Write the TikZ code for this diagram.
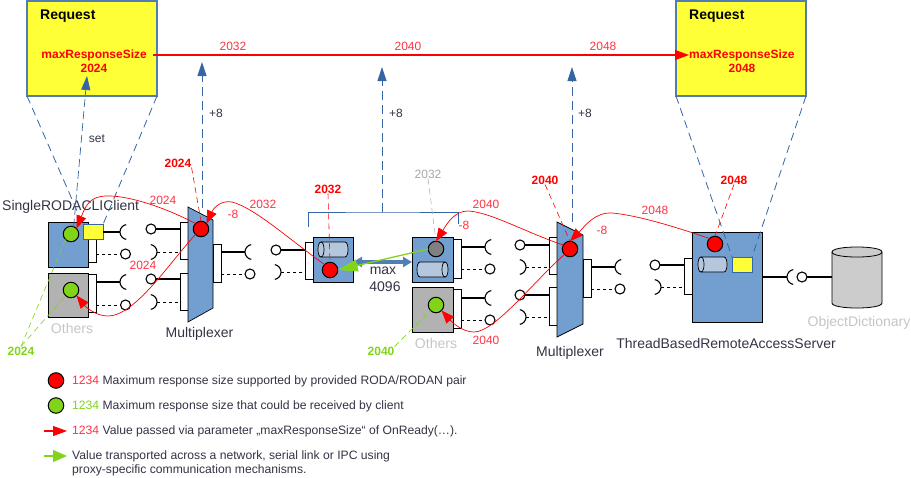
\documentclass[tikz,border=0pt]{standalone}
\usepackage{fontspec}
\setmainfont{Liberation Sans}
\usepackage{xcolor}
\usetikzlibrary{positioning,arrows.meta,calc}

\definecolor{boxblue}{HTML}{729FCF}
\definecolor{linkblue}{HTML}{3465A4}
\definecolor{reqyellow}{HTML}{FFFF38}
\definecolor{boxgray}{HTML}{B2B2B2}
\definecolor{dbgray}{HTML}{CCCCCC}
\definecolor{cylblue}{HTML}{B4C7DC}
\definecolor{limegreen}{HTML}{81D41A}
\definecolor{darktext}{HTML}{333344}
\definecolor{softred}{HTML}{FF3344}

\tikzset{
    txt/.style={font=\fontsize{12}{14}\selectfont, inner sep=0pt, text=darktext},
    legtxt/.style={font=\fontsize{12.15}{13.5}\selectfont, inner sep=0pt, text=darktext, anchor=west},
    big/.style={font=\fontsize{14}{16}\selectfont, inner sep=0pt, text=darktext},
    redval/.style={font=\fontsize{12}{14}\selectfont, inner sep=0pt, text=softred},
    redbold/.style={font=\bfseries\fontsize{12}{14}\selectfont, inner sep=0pt, text=red},
    limebold/.style={font=\bfseries\fontsize{12}{14}\selectfont, inner sep=0pt, text=limegreen},
    request/.style={draw=linkblue!85!white, line width=2pt, fill=reqyellow, minimum width=130, minimum height=95, outer sep=0pt},
    compbox/.style={draw=black, line width=1pt, fill=boxblue, outer sep=0pt, inner sep=0pt},
    graybox/.style={compbox, fill=boxgray},
    port/.style={draw=black, line width=1pt, fill=white, minimum width=8, outer sep=0pt, inner sep=0pt},
    mux/.style={draw=black, line width=0.7pt, fill=boxblue},
    dot/.style={circle, draw=black, line width=1pt, minimum size=15.5, inner sep=0pt, outer sep=0pt},
    pin/.style={circle, draw=black, line width=1.1pt, fill=white, minimum size=10, inner sep=0pt, outer sep=0pt},
    slot/.style={draw=linkblue, line width=0.9pt, fill=reqyellow, minimum width=20, minimum height=15, inner sep=0pt, outer sep=0pt},
    tubeline/.style={draw=black, line width=0.7pt, fill=cylblue},
    wire/.style={draw=black, line width=1.1pt},
    wiredash/.style={draw=black, line width=1pt, dash pattern=on 3pt off 3pt},
    plus/.style={draw=linkblue, line width=0.9pt, dash pattern=on 9pt off 5pt, -{Triangle[length=14pt,width=9pt]}},
    zoomline/.style={draw=linkblue, line width=0.8pt, dash pattern=on 8pt off 5pt},
    pass/.style={draw=red, line width=0.7pt, -{Triangle[length=13pt,width=10pt]}},
    tag/.style={line width=0.6pt, dash pattern=on 6pt off 4pt},
    net/.style={draw=limegreen, line width=1.3pt, -{Triangle[length=20pt,width=12pt]}},
    valueline/.style={draw=red, fill=red, line width=1.1pt, -{Triangle[length=14pt,width=10pt]}}
}
% open sockets, given by the outer point of the arc
\newcommand{\sockl}[2]{\coordinate (#1) at (#2); \draw[wire] (#1) arc (180:100:7.5) (#1) arc (180:260:7.5);}
\newcommand{\sockr}[2]{\coordinate (#1) at (#2); \draw[wire] (#1) arc (0:80:7.5) (#1) arc (0:-80:7.5);}
% lying tubes: x, y of the straight part, its length, its height
\newcommand{\tubebody}[4]{\draw[tubeline] (#1,#2) -- ++(#3,0) .. controls +(4,0) and +(4,0) .. ++(0,#4) -- ++(-#3,0) .. controls +(-4,0) and +(-4,0) .. ++(0,-#4) -- cycle;}
\newcommand{\tubel}[4]{\tubebody{#1}{#2}{#3}{#4} \draw[tubeline, fill=none] (#1,#2) .. controls +(4,0) and +(4,0) .. ++(0,#4);}
\newcommand{\tuber}[4]{\tubebody{#1}{#2}{#3}{#4} \draw[tubeline, fill=none] (#1,#2) ++(#3,0) .. controls +(-4,0) and +(-4,0) .. ++(0,#4);}

\begin{document}
\begin{tikzpicture}[x=1pt, y=-1pt, >=Latex]
\useasboundingbox (0,0) rectangle (911,477);

% Requests
\node[request] (reqL) at (92,48.5) {};
\node[request] (reqR) at (741,48.5) {};
\node[big, font=\bfseries\fontsize{14}{16}\selectfont, text=black, anchor=west] (reqLt) at (40,16) {Request};
\node[big, font=\bfseries\fontsize{14}{16}\selectfont, text=black, anchor=west] (reqRt) at (689,16) {Request};
\node[redbold, anchor=east] (maxL) at (147,55) {maxResponseSize};
\node[redbold] (valL) at (94,68) {2024};
\node[redbold, anchor=west] (maxR) at (689,55) {maxResponseSize};
\node[redbold] (valR) at (742,68) {2048};
\node[redval] (up1) at (233,46) {2032};
\node[redval] (up2) at (408,46) {2040};
\node[redval] (up3) at (603,46) {2048};

% Left client with its plugs
\node[port, minimum height=29] (clientP) at (92,247.5) {};
\node[port, minimum height=38] (othersP) at (92,293) {};
\node[compbox, minimum width=40, minimum height=45] (client) at (68,244.5) {};
\node[graybox, minimum width=40, minimum height=44] (others) at (68,295) {};
\node[slot] (slotL) at (93,232) {};
\node[big, anchor=west] (clientT) at (2,207) {SingleRODACLIClient};
\node[big, text=boxgray!75!white] (othersT) at (72,328) {Others};

\sockl{s1}{120,232}
\node[pin] (p1) at (151,229) {};
\node[pin] (p2) at (125.5,254) {};
\sockr{s2}{157,252}
\sockl{s3}{120,282}
\node[pin] (p3) at (151,279) {};
\node[pin] (p4) at (125.5,305) {};
\sockr{s4}{157,302}

% First multiplexer
\node[port, minimum height=37] (m1a) at (184.5,240.5) {};
\node[port, minimum height=37] (m1b) at (184.5,291.5) {};
\node[port, minimum height=38] (m1c) at (217,263) {};
\draw[mux] (188,207) -- (213,220) -- (213,308) -- (188,322) -- cycle;
\node[big] (m1t) at (199.5,334) {Multiplexer};

\draw[wire] (slotL.east) -- (s1);
\draw[wire] (p1.east) -- (p1 -| m1a.west);
\draw[wiredash] (p2 -| clientP.east) -- (p2.west);
\draw[wiredash] (s2) -- (s2 -| m1a.west);
\draw[wire] (s3 -| othersP.east) -- (s3);
\draw[wire] (p3.east) -- (p3 -| m1b.west);
\draw[wiredash] (p4 -| othersP.east) -- (p4.west);
\draw[wiredash] (s4) -- (s4 -| m1b.west);

\sockl{s5}{245,252}
\node[pin] (p5) at (276,250) {};
\node[pin] (p6) at (250,274) {};
\sockr{s6}{281,272}
\draw[wire] (s5 -| m1c.east) -- (s5);
\draw[wiredash] (p6 -| m1c.east) -- (p6.west);

% Middle pair
\node[port, minimum height=37] (midP) at (309,260.5) {};
\node[compbox, minimum width=40, minimum height=45] (midA) at (333,259.5) {};
\node[port, minimum height=39] (midQ) at (457,258.5) {};
\node[port, minimum height=39] (midR) at (457,308.5) {};
\node[compbox, minimum width=41, minimum height=45] (midB) at (432.5,259.5) {};
\node[graybox, minimum width=41, minimum height=45] (midC) at (432.5,309.5) {};
\tubel{321}{242}{24}{15}
\tuber{420}{262}{25}{15}
\node[big, text=boxgray!75!white] (othersU) at (436,343) {Others};
\node[big] (maxA) at (383,271) {max};
\node[big] (maxB) at (385,287) {4096};
\draw[wire] (p5.east) -- (p5 -| midP.west);
\draw[wiredash] (s6) -- (s6 -| midP.west);

\sockl{s7}{485,247}
\node[pin] (p7) at (490,269) {};
\sockl{s8}{485,298}
\node[pin] (p8) at (490,320) {};
\node[pin] (p9) at (520,245) {};
\sockr{s9}{526,267}
\node[pin] (p10) at (520,295) {};
\sockr{s10}{526,317}

% Second multiplexer
\node[port, minimum height=37] (m2a) at (553.5,255.5) {};
\node[port, minimum height=38] (m2b) at (553.5,306) {};
\node[port, minimum height=38] (m2c) at (587,278) {};
\draw[mux] (557,222) -- (583,235) -- (583,324) -- (557,337) -- cycle;
\node[big] (m2t) at (570,353) {Multiplexer};

\draw[wire] (s7 -| midQ.east) -- (s7);
\draw[wiredash] (p7 -| midQ.east) -- (p7.west);
\draw[wire] (s8 -| midR.east) -- (s8);
\draw[wiredash] (p8 -| midR.east) -- (p8.west);
\draw[wire] (p9.east) -- (p9 -| m2a.west);
\draw[wiredash] (s9) -- (s9 -| m2a.west);
\draw[wire] (p10.east) -- (p10 -| m2b.west);
\draw[wiredash] (s10) -- (s10 -| m2b.west);

\sockl{s11}{615,267}
\node[pin] (p11) at (620,289) {};
\draw[wire] (s11 -| m2c.east) -- (s11);
\draw[wiredash] (p11 -| m2c.east) -- (p11.west);

% Server and dictionary
\node[pin] (p12) at (655,265) {};
\sockr{s12}{661,287}
\node[port, minimum height=36] (srvP) at (688,276) {};
\node[compbox, minimum width=70, minimum height=90] (srv) at (727,277) {};
\tubel{701}{257}{23}{15}
\node[slot] (slotR) at (742,264.5) {};
\node[big] (srvT) at (726,343) {ThreadBasedRemoteAccessServer};
\draw[wire] (p12.east) -- (p12 -| srvP.west);
\draw[wiredash] (s12) -- (s12 -| srvP.west);
\sockl{s13}{787,277}
\node[pin] (p13) at (802,277) {};
\coordinate (db) at (832,277);
\draw[draw=black, line width=0.8pt, fill=dbgray] (832,252) .. controls +(0,-6.7) and +(0,-6.7) .. ++(50,0) -- ++(0,51) .. controls +(0,6.7) and +(0,6.7) .. ++(-50,0) -- cycle;
\draw[draw=black, line width=0.8pt] (832,252) .. controls +(0,6.7) and +(0,6.7) .. ++(50,0);
\node[big, text=boxgray!75!white] (dbT) at (859,323) {ObjectDictionary};
\draw[wire] (srv.east |- s13) -- (s13);
\draw[wire] (p13.east) -- (db);

% Bracket over the middle pair
\coordinate (brA) at (308,227);
\coordinate (brB) at (458,224);
\coordinate (brC) at (382,212);
\draw[draw=linkblue, line width=0.9pt] (brA) |- (brC) -| (brB);

% Zoom lines and +8 arrows
\draw[zoomline] (reqL.south west) -- (slotL.north west);
\draw[zoomline] (reqL.south east) -- (slotL.north east);
\draw[zoomline] (reqR.south west) -- (slotR.north west);
\draw[zoomline] (reqR.south east) -- (slotR.north east);
\coordinate (tipA) at (202,62);
\coordinate (tipB) at (382,67);
\coordinate (tipC) at (572,67);
\coordinate (tipS) at (87,76);
\coordinate (baseA) at (202,208);
\coordinate (baseC) at (572,222);
\draw[plus] (baseA) -- (tipA);
\draw[plus] (brC) -- (tipB);
\draw[plus] (baseC) -- (tipC);
\node[txt] (plusA) at (216,113) {+8};
\node[txt] (plusB) at (396,113) {+8};
\node[txt] (plusC) at (585,113) {+8};
\node[txt] (setT) at (97,139) {set};
\draw[valueline] (maxL.east) ++(6,0) -- (maxR.west);

% Value dots
\node[dot, fill=limegreen] (dotC) at (71,234) {};
\node[dot, fill=limegreen] (dotO) at (71,290) {};
\node[dot, fill=red] (dotM1) at (201,229) {};
\node[dot, fill=red] (dotA) at (330,270) {};
\node[dot, fill=gray] (dotB) at (436,249) {};
\node[dot, fill=limegreen] (dotG) at (436,305) {};
\node[dot, fill=red] (dotM2) at (570,249) {};
\node[dot, fill=red] (dotS) at (715,244) {};
\draw[plus, dash pattern=on 8pt off 4pt, line width=0.7pt] (dotC.70) -- (tipS);

% Value tags
\node[redbold] (tag1) at (178,163) {2024};
\node[redbold] (tag2) at (328,189) {2032};
\node[txt, text=gray!70!white] (tag3) at (428,174) {2032};
\node[redbold] (tag4) at (545,180) {2040};
\node[redbold] (tag5) at (734,180) {2048};
\node[limebold] (tag6) at (21,351) {2024};
\node[limebold] (tag7) at (381,351) {2040};
\draw[tag, red] (tag1.south east) -- (dotM1.north);
\draw[tag, red] (tag2.south) -- (dotA.north);
\draw[tag, gray!60!white] (tag3.south) -- (dotB.north);
\draw[tag, red] (tag4.south) -- (dotM2.north);
\draw[tag, red] (tag5.south) -- (dotS.north);
\draw[tag, limegreen] (tag6.north) -- (dotC.south west);
\draw[tag, limegreen] (tag6.north) -- (dotO.south west);
\draw[tag, limegreen] (tag7.north east) -- (dotG.south west);

% Link between the pair
\coordinate (linkA) at (353,262);
\coordinate (linkB) at (412,262);
\draw[{Triangle[length=9pt,width=10pt]}-{Triangle[length=9pt,width=10pt]}, draw=linkblue!55!boxblue, fill=linkblue!55!boxblue, line width=3.5pt] (linkA) -- (linkB);
\draw[net] (dotB.west) -- (dotA.east);

% Passed values
\draw[pass] (dotM1.135) .. controls (160,205) and (125,195) .. (105,196) .. controls (90,197) and (86,205) .. (dotC.north east);
\draw[pass] (dotM1.225) .. controls (170,262) and (135,316) .. (108,316) .. controls (95,316) and (85,306) .. (dotO.south east);
\draw[pass] (dotA.135) .. controls (290,240) and (255,208) .. (232,202) .. controls (222,200) and (214,207) .. (dotM1.north east);
\draw[pass] (dotM2.150) .. controls (525,232) and (490,212) .. (468,211) .. controls (455,211) and (448,222) .. (dotB.north);
\draw[pass] (dotM2.225) .. controls (535,280) and (495,332) .. (474,332) .. controls (462,332) and (452,322) .. (dotG.south east);
\draw[pass] (dotS.135) .. controls (670,225) and (635,215) .. (612,213) .. controls (595,212) and (585,226) .. (dotM2.north);
\node[redval] (v1) at (163,200) {2024};
\node[redval] (v2) at (143,265) {2024};
\node[redval] (v3) at (263,204) {2032};
\node[redval] (v4) at (233,214) {-8};
\node[redval] (v5) at (486,204) {2040};
\node[redval] (v6) at (464,225) {-8};
\node[redval] (v7) at (486,340) {2040};
\node[redval] (v8) at (655,210) {2048};
\node[redval] (v9) at (602,230) {-8};

% Legend
\node[dot, fill=red] (legA) at (56,380.5) {};
\node[dot, fill=limegreen] (legB) at (56,405.5) {};
\coordinate (legC0) at (44,431);
\coordinate (legC1) at (67,431);
\coordinate (legD0) at (44,456);
\coordinate (legD1) at (67,456);
\draw[valueline] (legC0) -- (legC1);
\draw[draw=limegreen, fill=limegreen, line width=1.1pt, -{Triangle[length=14pt,width=12pt]}] (legD0) -- (legD1);
\node[legtxt] (legAt) at (72,381) {\textcolor{softred}{1234} Maximum response size supported by provided RODA/RODAN pair};
\node[legtxt] (legBt) at (72,406) {\textcolor{limegreen}{1234} Maximum response size that could be received by client};
\node[legtxt] (legCt) at (72,431) {\textcolor{softred}{1234} Value passed via parameter „maxResponseSize“ of OnReady(…).};
\node[legtxt, align=left] (legDt) at (72,463.5) {Value transported across a network, serial link or IPC using\\proxy-specific communication mechanisms.};
\end{tikzpicture}
\end{document}
